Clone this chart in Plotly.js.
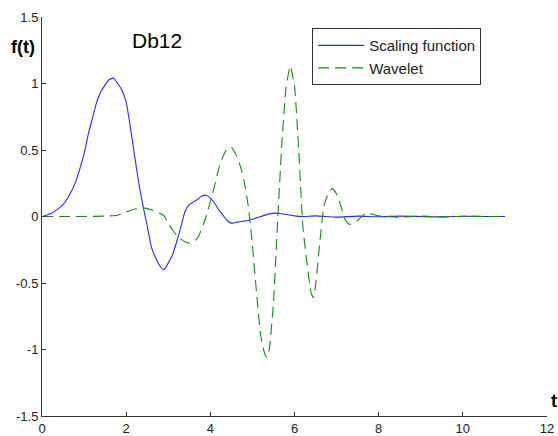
<!DOCTYPE html>
<html>
<head>
<meta charset="utf-8">
<script src="https://cdn.plot.ly/plotly-3.0.1.min.js"></script>
<style>html,body{margin:0;padding:0;background:#fff;}#chart{width:558px;height:436px;}</style>
</head>
<body>
<div id="chart"></div>
<script>
// Scaling function (blue)
const tPhi = [0, 0.2, 0.35, 0.5, 0.65, 0.8, 0.9, 1.0, 1.1, 1.2, 1.3, 1.4, 1.5, 1.6, 1.7, 1.8, 1.9, 2.0, 2.1, 2.2, 2.3, 2.4, 2.5, 2.6, 2.7, 2.8, 2.9, 3.0, 3.1, 3.2, 3.3, 3.4, 3.5, 3.6, 3.7, 3.8, 3.9, 4.0, 4.1, 4.2, 4.3, 4.4, 4.5, 4.6, 4.7, 4.8, 4.9, 5.0, 5.2, 5.4, 5.6, 5.8, 6.0, 6.2, 6.5, 7.0, 7.5, 8.0, 8.5, 9.0, 9.5, 10.0, 10.5, 11.0];
const phi = [0, 0.02, 0.05, 0.09, 0.16, 0.26, 0.36, 0.47, 0.62, 0.74, 0.86, 0.94, 0.99, 1.03, 1.04, 1.0, 0.95, 0.86, 0.67, 0.46, 0.25, 0.08, -0.07, -0.23, -0.31, -0.37, -0.40, -0.35, -0.29, -0.19, -0.08, 0.04, 0.09, 0.11, 0.13, 0.155, 0.16, 0.14, 0.10, 0.05, 0.01, -0.03, -0.05, -0.045, -0.04, -0.035, -0.03, -0.02, 0.0, 0.02, 0.025, 0.015, 0.005, 0.0, 0.005, -0.005, 0.003, -0.002, 0.003, 0.0, -0.003, 0.002, 0.0, 0.0];

// Wavelet (green dashed)
const tPsi = [0, 0.5, 1.0, 1.5, 1.8, 2.0, 2.2, 2.4, 2.6, 2.8, 2.9, 3.0, 3.1, 3.2, 3.3, 3.4, 3.5, 3.6, 3.7, 3.8, 3.9, 4.0, 4.1, 4.2, 4.3, 4.4, 4.5, 4.6, 4.7, 4.8, 4.9, 5.0, 5.1, 5.2, 5.3, 5.35, 5.4, 5.5, 5.6, 5.7, 5.8, 5.9, 6.0, 6.1, 6.2, 6.3, 6.4, 6.45, 6.5, 6.6, 6.7, 6.8, 6.9, 7.0, 7.1, 7.2, 7.3, 7.4, 7.5, 7.6, 7.7, 7.8, 8.0, 8.5, 9.0, 9.5, 10.0, 10.5, 11.0];
const psi = [0, 0.0, 0.0, 0.003, 0.01, 0.035, 0.055, 0.065, 0.05, 0.025, 0.005, -0.05, -0.1, -0.14, -0.17, -0.19, -0.2, -0.19, -0.16, -0.09, 0.0, 0.11, 0.23, 0.36, 0.45, 0.51, 0.52, 0.47, 0.39, 0.27, 0.08, -0.22, -0.58, -0.9, -1.04, -1.06, -1.0, -0.65, -0.03, 0.55, 0.97, 1.13, 0.98, 0.5, -0.08, -0.36, -0.58, -0.61, -0.52, -0.2, 0.08, 0.17, 0.21, 0.17, 0.08, -0.02, -0.06, -0.045, -0.03, 0.0, 0.025, 0.02, 0.005, -0.005, 0.003, -0.003, 0.002, 0.0, 0.0];

const xTicks = [0, 2, 4, 6, 8, 10, 12];
const yTickVals = [-1.5, -1, -0.5, 0, 0.5, 1, 1.5];
const yTickText = ["-1.5", "-1", "-0.5", "0", "0.5", "1", "1.5"];

const font = "Liberation Sans, Arial, sans-serif";

const traces = [
  {x: tPhi, y: phi, type: 'scatter', mode: 'lines', name: 'Scaling function',
   line: {color: 'rgb(40,40,255)', width: 1.1, shape: 'spline', smoothing: 0.5}},
  {x: tPsi, y: psi, type: 'scatter', mode: 'lines', name: 'Wavelet',
   line: {color: 'rgb(20,140,20)', width: 1.1, dash: '11px,6px', shape: 'spline', smoothing: 0.5}}
];

const layout = {
  width: 558, height: 436,
  margin: {l: 42, r: 11, t: 17, b: 20, pad: 0},
  paper_bgcolor: '#fff', plot_bgcolor: '#fff',
  font: {family: font, size: 13, color: '#222'},
  showlegend: true,
  legend: {x: 0.535, y: 0.972, xanchor: 'left', yanchor: 'top',
    bgcolor: '#fff', bordercolor: '#333', borderwidth: 1,
    font: {family: font, size: 15, color: '#222'}, itemwidth: 46},
  xaxis: {range: [0, 12], tickvals: xTicks, ticks: 'inside', ticklen: 4, tickcolor: '#333',
    showline: true, linecolor: '#333', linewidth: 1, showgrid: false, zeroline: false,
    tickfont: {family: font, size: 13, color: '#222'}, fixedrange: true},
  yaxis: {range: [-1.5, 1.5], tickvals: yTickVals, ticktext: yTickText, ticks: 'inside', ticklen: 4, tickcolor: '#333',
    showline: true, linecolor: '#333', linewidth: 1, showgrid: false, zeroline: false,
    tickfont: {family: font, size: 13, color: '#222'}, fixedrange: true},
  annotations: [
    {text: '<b>f(t)</b>', xref: 'paper', yref: 'paper', x: (23 - 42) / 505, y: 1 - (47 - 17) / 399,
     xanchor: 'center', yanchor: 'middle', showarrow: false, font: {family: font, size: 18, color: '#000'}},
    {text: '<b>t</b>', xref: 'paper', yref: 'paper', x: (554 - 42) / 505, y: 1 - (401 - 17) / 399,
     xanchor: 'center', yanchor: 'middle', showarrow: false, font: {family: font, size: 18, color: '#000'}},
    {text: 'Db12', xref: 'paper', yref: 'paper', x: (157 - 42) / 505, y: 1 - (40 - 17) / 399,
     xanchor: 'center', yanchor: 'middle', showarrow: false, font: {family: font, size: 21, color: '#000'}}
  ]
};

Plotly.newPlot('chart', traces, layout, {displayModeBar: false, staticPlot: true});
</script>
</body>
</html>
